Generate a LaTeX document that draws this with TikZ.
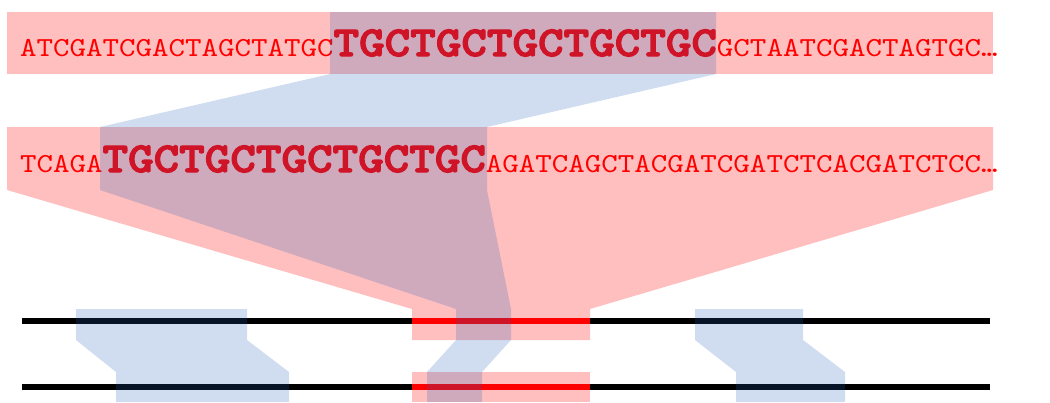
\documentclass[tikz,border=0pt]{standalone}
\usepackage{fontspec}
\newfontfamily\seqmono[FakeStretch=1.143]{lmmono10-regular.otf}
\newfontfamily\seqmonob[FakeStretch=1.143,FakeBold=3]{lmmonolt10-bold.otf}
\definecolor{pinkband}{RGB}{255,191,191}
\definecolor{blueov}{RGB}{37,97,186}
\definecolor{seqred}{RGB}{255,0,0}
\begin{document}
\begin{tikzpicture}[x=1pt,y=-1pt,
  pinkfill/.style={fill=pinkband, draw=none},
  bluefill/.style={fill=blueov, fill opacity=0.215, draw=none},
  smallseq/.style={font=\seqmono\fontsize{27.5}{30}\selectfont, text=seqred, inner sep=0pt, outer sep=0pt, anchor=base west},
  bigseq/.style={font=\seqmonob\fontsize{42.6}{45}\selectfont, text=seqred, inner sep=0pt, outer sep=0pt, anchor=base west},
  chrom/.style={line width=5.5pt, black},
  hit/.style={line width=5.5pt, red}]
\useasboundingbox (0,0) rectangle (1050,402);
% pink regions
\fill[pinkfill] (7,12) rectangle (993,74);
\fill[pinkfill] (7,127) -- (993,127) -- (993,190) -- (590,309) -- (590,340)
  -- (412,340) -- (412,309) -- (7,190) -- cycle;
\fill[pinkfill] (412,372) rectangle (590,402);
% sequences
\node[smallseq] (a1) at (20,56) {ATCGATCGACTAGCTATGC};
\node[bigseq] (a2) at (a1.base east) {TGCTGCTGCTGCTGC};
\node[smallseq] (a3) at (a2.base east) {GCTAATCGACTAGTGC…};
\node[smallseq] (b1) at (20,172) {TCAGA};
\node[bigseq] (b2) at (b1.base east) {TGCTGCTGCTGCTGC};
\node[smallseq] (b3) at (b2.base east) {AGATCAGCTACGATCGATCTCACGATCTCC…};
% chromosomes
\coordinate (t1) at (22,321); \coordinate (t2) at (990,321);
\coordinate (u1) at (22,387); \coordinate (u2) at (990,387);
\coordinate (th1) at (412,321); \coordinate (th2) at (590,321);
\coordinate (uh1) at (412,387); \coordinate (uh2) at (590,387);
\draw[chrom] (t1) -- (t2);
\draw[chrom] (u1) -- (u2);
\draw[hit] (th1) -- (th2);
\draw[hit] (uh1) -- (uh2);
% blue overlays
\fill[bluefill] (330,12) -- (716,12) -- (716,74) -- (487,127) -- (487,190)
  -- (511,309) -- (511,340) -- (482,372) -- (482,402) -- (427,402) -- (427,372)
  -- (456,340) -- (456,309) -- (100,190) -- (100,127) -- (330,74) -- cycle;
\fill[bluefill] (76,309) -- (247,309) -- (247,340) -- (289,372) -- (289,402)
  -- (116,402) -- (116,372) -- (76,340) -- cycle;
\fill[bluefill] (695,309) -- (803,309) -- (803,340) -- (845,372) -- (845,402)
  -- (736,402) -- (736,372) -- (695,340) -- cycle;
\end{tikzpicture}
\end{document}
